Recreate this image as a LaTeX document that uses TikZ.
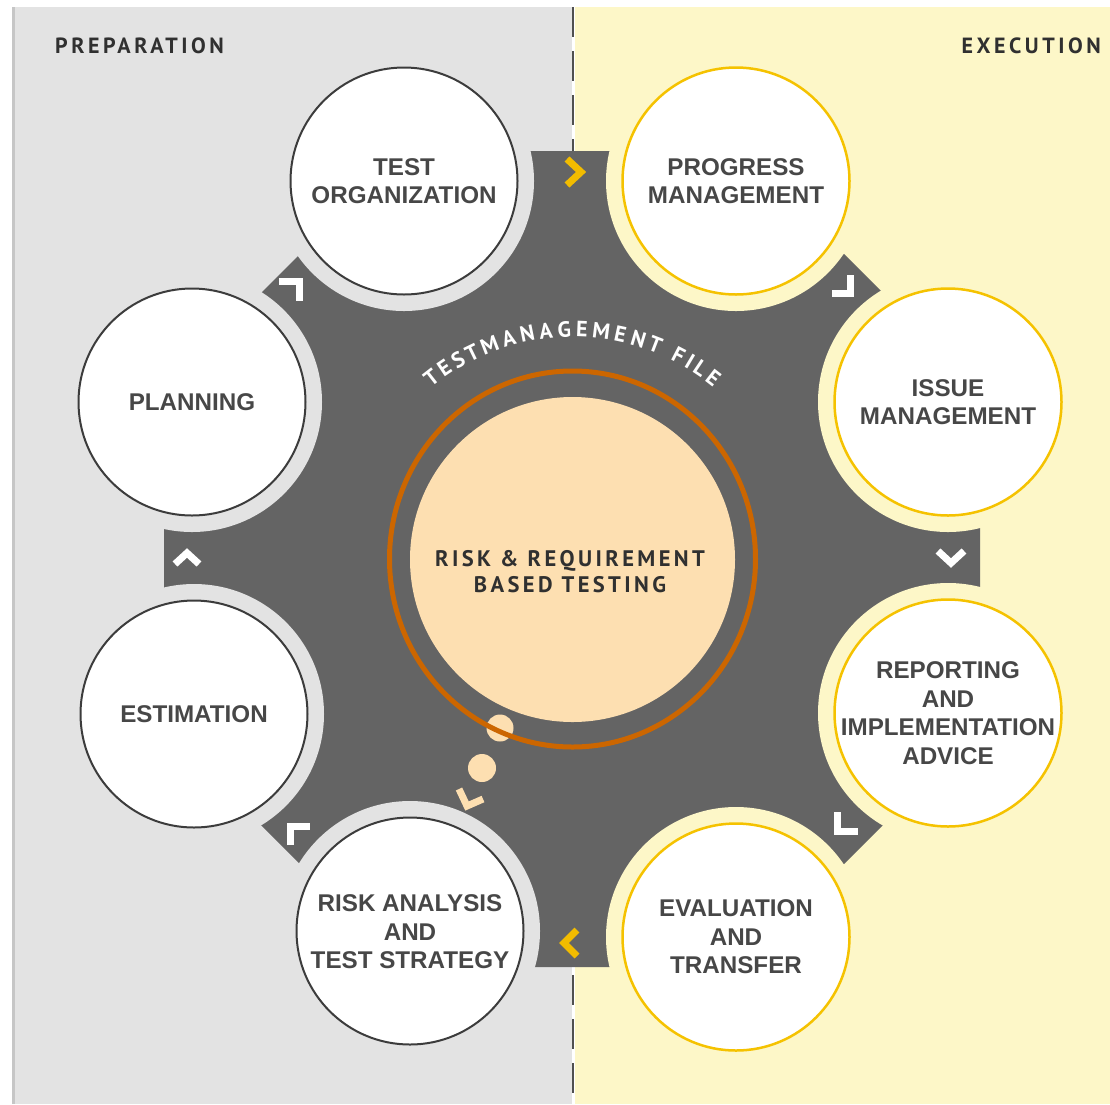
\documentclass[tikz,border=0pt]{standalone}
\usepackage{fontspec}
\usetikzlibrary{calc}
\newfontfamily\labfont{Liberation Sans}
\newfontfamily\hfont{PT Sans}[LetterSpace=16]
\newfontfamily\cfont{PT Sans}[LetterSpace=15]
\newfontfamily\arcfontfam{PT Sans}
\definecolor{bgL}{HTML}{E3E3E3}
\definecolor{bgEdge}{HTML}{C6C6C6}
\definecolor{bgR}{HTML}{FDF7C8}
\definecolor{darkc}{HTML}{646464}
\definecolor{lborder}{HTML}{3C3C3C}
\definecolor{rborder}{HTML}{F5C200}
\definecolor{labc}{HTML}{474747}
\definecolor{peach}{HTML}{FDDFB1}
\definecolor{ringc}{HTML}{CC6600}
\definecolor{chevy}{HTML}{F2BC00}
\definecolor{headc}{HTML}{303030}
\begin{document}
\begin{tikzpicture}[x=1pt,y=1pt,
  lcirc/.style={circle, minimum size=227pt, inner sep=0pt, draw=lborder, line width=2pt, fill=white},
  rcirc/.style={circle, minimum size=227pt, inner sep=0pt, draw=rborder, line width=2.5pt, fill=white},
  lab/.style={align=center, inner sep=0pt, text=labc, font=\labfont\bfseries\fontsize{24.2}{28.5}\selectfont},
  chevw/.style={draw=white, line width=7pt, miter limit=10, line join=miter},
  chevg/.style={draw=chevy, line width=7pt, miter limit=10, line join=miter},
  head/.style={inner sep=0pt, text=headc, font=\hfont\bfseries\fontsize{22}{26}\selectfont},
  ctext/.style={align=center, inner sep=0pt, text=headc, font=\cfont\bfseries\fontsize{22.5}{26}\selectfont},
  arcch/.style={inner sep=0pt, anchor=base, text=white, font=\arcfontfam\bfseries\fontsize{22}{24}\selectfont}
]
\useasboundingbox (0,0) rectangle (1110,-1104);
\fill[white] (0,0) rectangle (1110,-1104);
\fill[bgL] (12,-7) rectangle (573,-1104);
\fill[bgEdge] (12,-7) rectangle (15,-1104);
\fill[bgR] (573,-7) rectangle (1110,-1104);
\draw[white, line width=3pt] (573,-7) -- (573,-1104);
\draw[darkc!80!black, line width=2.5pt, dash pattern=on 30pt off 14pt] (573,-7) -- (573,-1104);

% positions
\coordinate (C) at (572.5,-559);
\coordinate (pTO) at (404,-181);
\coordinate (pPM) at (736,-181);
\coordinate (pPL) at (192,-402);
\coordinate (pIM) at (948,-402);
\coordinate (pES) at (194,-714);
\coordinate (pRE) at (948,-713);
\coordinate (pRA) at (410,-931);
\coordinate (pEV) at (736,-937);

% dark octagon
\fill[darkc] (980,-390) -- (741,-151) -- (403,-151) -- (164,-390) -- (164,-728) -- (403,-967) -- (741,-967) -- (980,-728) -- cycle;

% halos
\foreach \p in {pTO,pPL,pES,pRA} \fill[bgL] (\p) circle (130);
\foreach \p in {pPM,pIM,pRE,pEV} \fill[bgR] (\p) circle (130);

% circles
\node[lcirc] (cTO) at (pTO) {};
\node[lcirc] (cPL) at (pPL) {};
\node[lcirc] (cES) at (pES) {};
\node[lcirc] (cRA) at (pRA) {};
\node[rcirc] (cPM) at (pPM) {};
\node[rcirc] (cIM) at (pIM) {};
\node[rcirc] (cRE) at (pRE) {};
\node[rcirc] (cEV) at (pEV) {};

\node[lab] (tTO) at (cTO) {TEST\\ORGANIZATION};
\node[lab] (tPL) at (cPL) {PLANNING};
\node[lab] (tES) at (cES) {ESTIMATION};
\node[lab] (tRA) at ([yshift=-1pt]cRA) {RISK ANALYSIS\\AND\\TEST STRATEGY};
\node[lab] (tPM) at (cPM) {PROGRESS\\MANAGEMENT};
\node[lab] (tIM) at (cIM) {ISSUE\\MANAGEMENT};
\node[lab] (tRE) at (cRE) {REPORTING\\AND\\IMPLEMENTATION\\ADVICE};
\node[lab] (tEV) at (cEV) {EVALUATION\\AND\\TRANSFER};

% center
\fill[peach] (482,-768) circle (14);
\draw[peach, line width=7pt, line join=miter] (459,-789) -- (467,-806) -- (483,-799);
\fill[peach] (572.5,-559.5) circle (162.5);
\fill[peach] (500,-728) circle (13.5);
\draw[ringc, line width=5pt] (C) ellipse [x radius=183, y radius=188];
\node[ctext] (ctr) at (570,-572) {RISK \& REQUIREMENT\\BASED TESTING};

% arc text (letters placed along an arc of radius 222)
\gdef\cum{0}
\foreach \ch/\w/\g [count=\i] in {T/.50/0, E/.53/0, S/.51/0, T/.50/0, M/.79/0, A/.58/0, N/.71/0, A/.58/0, G/.64/0, E/.53/0, M/.79/0, E/.53/0, N/.71/0, T/.50/0, F/.49/9.4, I/.29/0, L/.46/0, E/.53/0}{
  \pgfmathsetmacro\s{\cum+\g+\w*22.9/2}
  \pgfmathsetmacro\a{90+(152.6-\s)*0.25809}
  \node[arcch, rotate=\a-90] (arc\i) at ($(C)+(\a:222)$) {\ch};
  \pgfmathsetmacro\nc{\cum+\g+\w*22.9+3.7}
  \xdef\cum{\nc}
}

% chevrons
\draw[chevg] (567,-159) -- (581,-172) -- (567,-185);
\draw[chevw] (832,-293) -- (850,-293) -- (850,-275);
\draw[chevw] (938,-551) -- (951,-563) -- (964,-551);
\draw[chevw] (837,-812) -- (837,-831) -- (858,-831);
\draw[chevg] (577,-930) -- (564,-943) -- (577,-956);
\draw[chevw] (290,-845) -- (290,-826) -- (310,-826);
\draw[chevw] (175,-564) -- (187,-553) -- (199,-564);
\draw[chevw] (279,-281) -- (299,-281) -- (299,-301);

% headers
\node[head, anchor=west] (hP) at (55,-46) {PREPARATION};
\node[head, anchor=east] (hE) at (1101,-46) {EXECUTION};
\end{tikzpicture}
\end{document}
